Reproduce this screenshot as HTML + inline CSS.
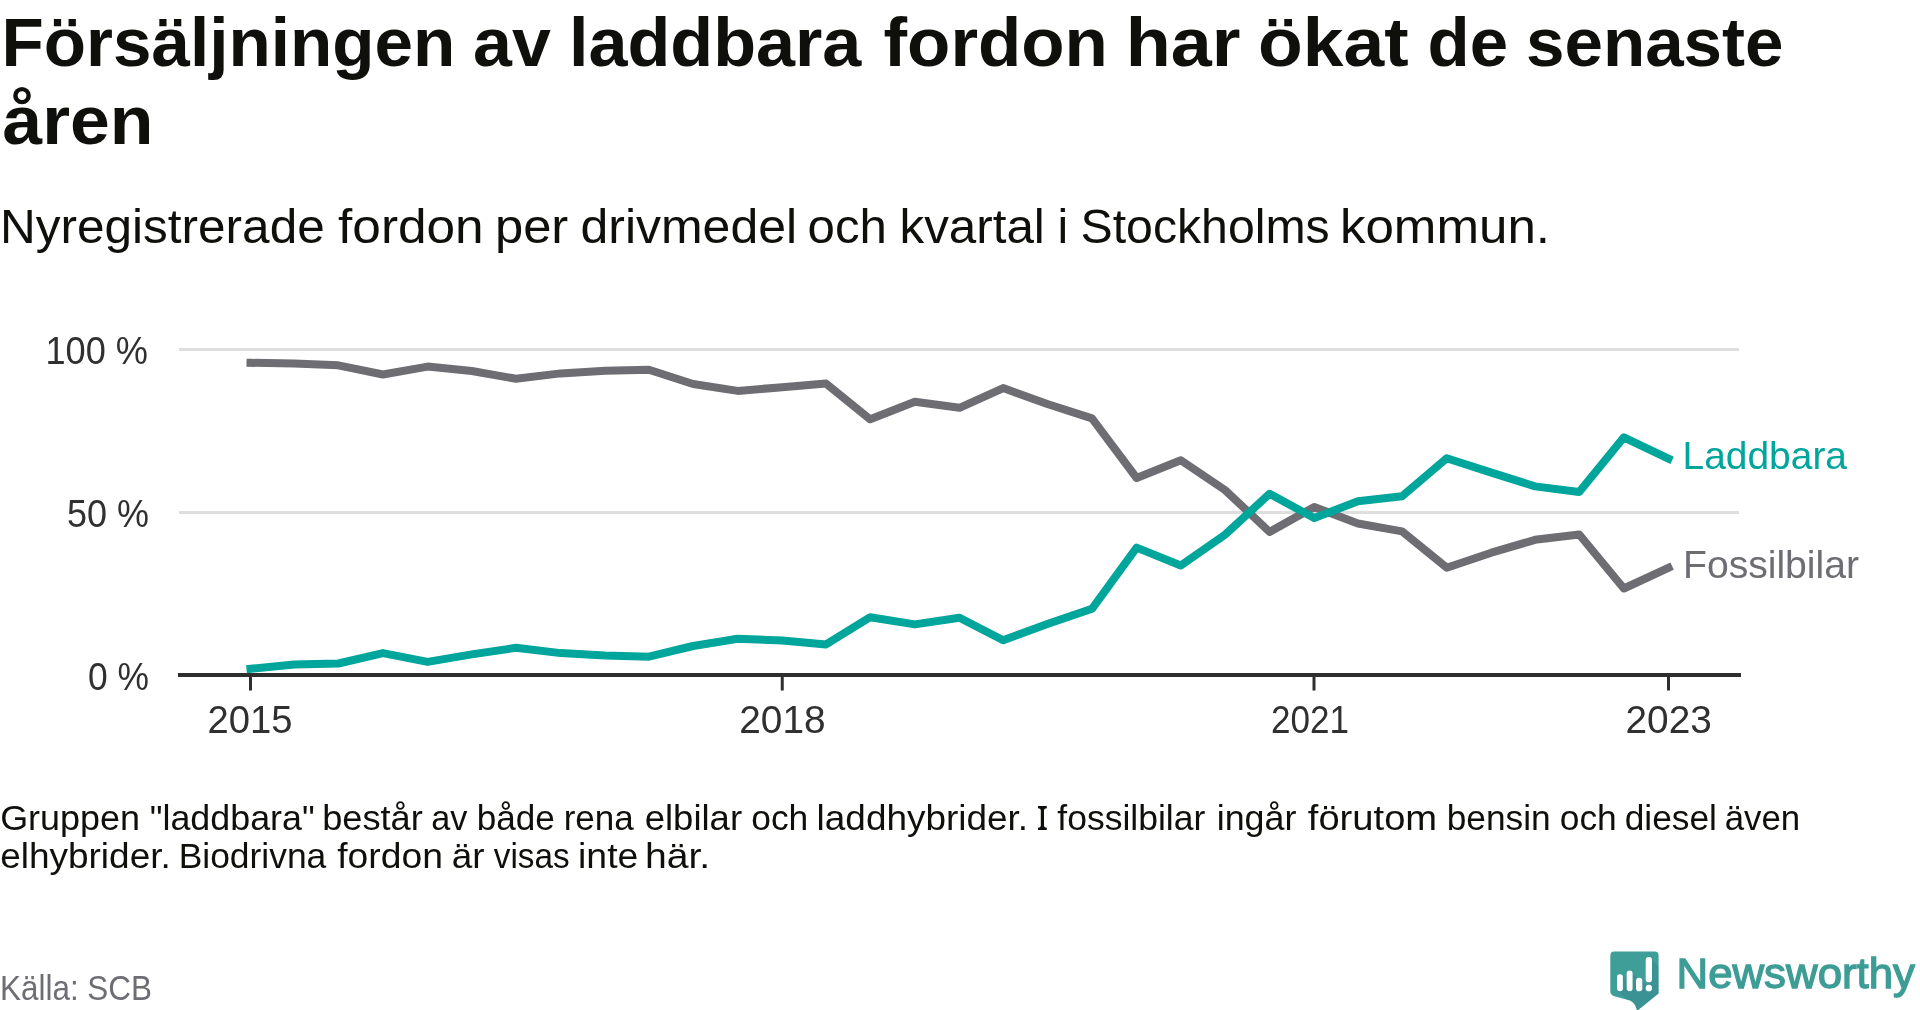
<!DOCTYPE html>
<html><head><meta charset="utf-8">
<style>
html,body{margin:0;padding:0;background:#fff;width:1920px;height:1010px;overflow:hidden}
svg{display:block;position:absolute;left:0;top:0;will-change:transform}
text{font-family:"Liberation Sans",sans-serif}
</style></head><body>
<svg width="1920" height="1010" viewBox="0 0 1920 1010">
<g fill="#0f0f0b"><text id="t1_0" x="1.54" y="66" font-size="69" font-weight="bold" textLength="453.65" lengthAdjust="spacingAndGlyphs">Försäljningen</text><text id="t1_1" x="473.12" y="66" font-size="69" font-weight="bold" textLength="77.80" lengthAdjust="spacingAndGlyphs">av</text><text id="t1_2" x="568.97" y="66" font-size="69" font-weight="bold" textLength="292.42" lengthAdjust="spacingAndGlyphs">laddbara</text><text id="t1_3" x="883.51" y="66" font-size="69" font-weight="bold" textLength="224.32" lengthAdjust="spacingAndGlyphs">fordon</text><text id="t1_4" x="1125.81" y="66" font-size="69" font-weight="bold" textLength="114.75" lengthAdjust="spacingAndGlyphs">har</text><text id="t1_5" x="1257.97" y="66" font-size="69" font-weight="bold" textLength="150.62" lengthAdjust="spacingAndGlyphs">ökat</text><text id="t1_6" x="1427.55" y="66" font-size="69" font-weight="bold" textLength="80.54" lengthAdjust="spacingAndGlyphs">de</text><text id="t1_7" x="1526.04" y="66" font-size="69" font-weight="bold" textLength="257.51" lengthAdjust="spacingAndGlyphs">senaste</text><text id="t2_0" x="2.50" y="144" font-size="69" font-weight="bold" textLength="150.96" lengthAdjust="spacingAndGlyphs">åren</text><text id="s_0" x="-0.02" y="243" font-size="48" textLength="324.73" lengthAdjust="spacingAndGlyphs">Nyregistrerade</text><text id="s_1" x="338.05" y="243" font-size="48" textLength="145.65" lengthAdjust="spacingAndGlyphs">fordon</text><text id="s_2" x="494.94" y="243" font-size="48" textLength="73.33" lengthAdjust="spacingAndGlyphs">per</text><text id="s_3" x="580.52" y="243" font-size="48" textLength="216.54" lengthAdjust="spacingAndGlyphs">drivmedel</text><text id="s_4" x="807.54" y="243" font-size="48" textLength="79.28" lengthAdjust="spacingAndGlyphs">och</text><text id="s_5" x="899.51" y="243" font-size="48" textLength="145.31" lengthAdjust="spacingAndGlyphs">kvartal</text><text id="s_6" x="1057.55" y="243" font-size="48">i</text><text id="s_7" x="1080.59" y="243" font-size="48" textLength="249.11" lengthAdjust="spacingAndGlyphs">Stockholms</text><text id="s_8" x="1339.93" y="243" font-size="48" textLength="210.07" lengthAdjust="spacingAndGlyphs">kommun.</text></g>
<g stroke="#dedede" stroke-width="3">
<line x1="179" y1="349.5" x2="1739" y2="349.5"/>
<line x1="179" y1="512.5" x2="1739" y2="512.5"/>
</g>
<g fill="#303030">
<text x="45.50" y="364" font-size="38.8" textLength="102.50" lengthAdjust="spacingAndGlyphs" id="y100">100 %</text>
<text x="67.00" y="527" font-size="38.8" textLength="82.00" lengthAdjust="spacingAndGlyphs" id="y50">50 %</text>
<text x="88.00" y="689.5" font-size="38.8" textLength="61.00" lengthAdjust="spacingAndGlyphs" id="y0">0 %</text>
<text x="207.50" y="733" font-size="38.8" textLength="85.00" lengthAdjust="spacingAndGlyphs" id="x2015">2015</text>
<text x="739.30" y="733" font-size="38.8" id="x2018">2018</text>
<text x="1271.00" y="733" font-size="38.8" textLength="78.00" lengthAdjust="spacingAndGlyphs" id="x2021">2021</text>
<text x="1625.50" y="733" font-size="38.8" id="x2023">2023</text>
</g>
<g stroke="#2e2e2e">
<line x1="178" y1="675" x2="1741" y2="675" stroke-width="4"/>
<line x1="250.5" y1="675" x2="250.5" y2="690.5" stroke-width="3"/>
<line x1="782.25" y1="675" x2="782.25" y2="690.5" stroke-width="3"/>
<line x1="1314" y1="675" x2="1314" y2="690.5" stroke-width="3"/>
<line x1="1668.5" y1="675" x2="1668.5" y2="690.5" stroke-width="3"/>
</g>
<polyline fill="none" stroke="#6e6d73" stroke-width="8" stroke-linejoin="round" stroke-linecap="square" points="250.50,362.8 294.18,363.6 338.34,365.3 382.98,374.5 427.63,366.6 471.79,371.0 515.95,378.8 560.60,373.4 605.24,370.8 648.92,369.7 693.08,384.0 737.73,390.9 782.37,387.2 826.05,383.6 870.21,419.3 914.85,401.7 959.50,407.8 1003.18,388.1 1047.34,404.0 1091.98,418.4 1136.63,478.0 1180.79,460.2 1224.95,490.0 1269.60,531.9 1314.24,506.9 1357.92,523.5 1402.08,531.4 1446.73,567.7 1491.37,552.7 1535.05,539.8 1579.21,534.5 1623.85,588.5 1668.50,567.7"/>
<polyline fill="none" stroke="#00a59b" stroke-width="8" stroke-linejoin="round" stroke-linecap="square" points="250.50,668.8 294.18,664.4 338.34,663.5 382.98,653.1 427.63,661.9 471.79,654.4 515.95,647.8 560.60,653.1 605.24,655.6 648.92,656.7 693.08,646.0 737.73,638.8 782.37,640.4 826.05,644.4 870.21,617.2 914.85,624.4 959.50,617.8 1003.18,640.3 1047.34,624.1 1091.98,608.8 1136.63,547.6 1180.79,565.5 1224.95,534.7 1269.60,493.8 1314.24,518.1 1357.92,501.2 1402.08,496.2 1446.73,458.3 1491.37,472.6 1535.05,486.4 1579.21,492.0 1623.85,437.3 1668.50,458.6"/>
<text x="1682.50" y="469" font-size="39.5" textLength="164.50" lengthAdjust="spacingAndGlyphs" id="laddbara" fill="#00a59b">Laddbara</text>
<text x="1683.00" y="578" font-size="39.5" textLength="176.00" lengthAdjust="spacingAndGlyphs" id="fossil" fill="#6e6d73">Fossilbilar</text>
<g fill="#0f0f0b"><text id="f1_0" x="0.20" y="830" font-size="34.2" textLength="139.75" lengthAdjust="spacingAndGlyphs">Gruppen</text><text id="f1_1" x="149.72" y="830" font-size="34.2" textLength="164.96" lengthAdjust="spacingAndGlyphs">"laddbara"</text><text id="f1_2" x="322.18" y="830" font-size="34.2" textLength="100.67" lengthAdjust="spacingAndGlyphs">består</text><text id="f1_3" x="431.26" y="830" font-size="34.2" textLength="36.17" lengthAdjust="spacingAndGlyphs">av</text><text id="f1_4" x="476.73" y="830" font-size="34.2" textLength="78.16" lengthAdjust="spacingAndGlyphs">både</text><text id="f1_5" x="563.72" y="830" font-size="34.2" textLength="70.02" lengthAdjust="spacingAndGlyphs">rena</text><text id="f1_6" x="644.68" y="830" font-size="34.2" textLength="97.38" lengthAdjust="spacingAndGlyphs">elbilar</text><text id="f1_7" x="751.24" y="830" font-size="34.2" textLength="56.99" lengthAdjust="spacingAndGlyphs">och</text><text id="f1_8" x="816.63" y="830" font-size="34.2" textLength="211.40" lengthAdjust="spacingAndGlyphs">laddhybrider.</text><text id="f1_10" x="1057.28" y="830" font-size="34.2" textLength="148.02" lengthAdjust="spacingAndGlyphs">fossilbilar</text><text id="f1_11" x="1216.69" y="830" font-size="34.2" textLength="79.65" lengthAdjust="spacingAndGlyphs">ingår</text><text id="f1_12" x="1307.79" y="830" font-size="34.2" textLength="129.38" lengthAdjust="spacingAndGlyphs">förutom</text><text id="f1_13" x="1446.73" y="830" font-size="34.2" textLength="103.88" lengthAdjust="spacingAndGlyphs">bensin</text><text id="f1_14" x="1559.74" y="830" font-size="34.2" textLength="57.01" lengthAdjust="spacingAndGlyphs">och</text><text id="f1_15" x="1624.74" y="830" font-size="34.2" textLength="92.19" lengthAdjust="spacingAndGlyphs">diesel</text><text id="f1_16" x="1724.76" y="830" font-size="34.2" textLength="75.47" lengthAdjust="spacingAndGlyphs">även</text><text id="f2_0" x="0.15" y="868" font-size="34.2" textLength="170.62" lengthAdjust="spacingAndGlyphs">elhybrider.</text><text id="f2_1" x="178.70" y="868" font-size="34.2" textLength="147.63" lengthAdjust="spacingAndGlyphs">Biodrivna</text><text id="f2_2" x="337.27" y="868" font-size="34.2" textLength="105.62" lengthAdjust="spacingAndGlyphs">fordon</text><text id="f2_3" x="451.70" y="868" font-size="34.2" textLength="32.79" lengthAdjust="spacingAndGlyphs">är</text><text id="f2_4" x="493.78" y="868" font-size="34.2" textLength="75.88" lengthAdjust="spacingAndGlyphs">visas</text><text id="f2_5" x="578.08" y="868" font-size="34.2" textLength="60.18" lengthAdjust="spacingAndGlyphs">inte</text><text id="f2_6" x="644.96" y="868" font-size="34.2" textLength="65.27" lengthAdjust="spacingAndGlyphs">här.</text><path d="M1038,806 H1046.8 V808.2 Q1044.2,808.4 1044,810 V826 Q1044.2,827.6 1046.8,827.8 V830 H1038 V827.8 Q1040.6,827.6 1040.8,826 V810 Q1040.6,808.4 1038,808.2 Z"/></g>
<text x="0.00" y="1000" font-size="34.6" textLength="152.00" lengthAdjust="spacingAndGlyphs" id="kalla" fill="#6e6d73">Källa: SCB</text>
<defs><clipPath id="lc"><path d="M1610.3,955.5 Q1610.3,951.4 1614.3,951.4 H1654.6 Q1658.6,951.4 1658.6,955.4 V993.6 L1637,1011 Q1635.5,1003 1630,1000.6 L1614.4,996.2 Q1610.3,994.8 1610.3,991.5 Z"/></clipPath></defs><g id="logo"><path d="M1610.3,955.5 Q1610.3,951.4 1614.3,951.4 H1654.6 Q1658.6,951.4 1658.6,955.4 V993.6 L1637,1011 Q1635.5,1003 1630,1000.6 L1614.4,996.2 Q1610.3,994.8 1610.3,991.5 Z" fill="#3f9e97"/><g clip-path="url(#lc)" fill="#2a5f8a" opacity="0.18"><path d="M1622.9,977.25 L1662.9,1017.25 L1657.885,1031.3 L1617.885,991.3 Z"/><path d="M1632.6,973.4499999999999 L1672.6,1013.4499999999999 L1667.585,1031.3 L1627.585,991.3 Z"/><path d="M1642.3,980.9499999999999 L1682.3,1020.9499999999999 L1676.945,1031.3 L1636.945,991.3 Z"/><path d="M1652,960.15 L1692,1000.15 L1686.645,1022.3 L1646.645,982.3 Z"/><path d="M1652,987.85 L1692,1027.85 L1686.645,1031.3 L1646.645,991.3 Z"/></g><g fill="#fff"><rect x="1617" y="974.3" width="5.9" height="17.0" rx="2.95"/><rect x="1626.7" y="970.5" width="5.9" height="20.8" rx="2.95"/><rect x="1636" y="977.8" width="6.3" height="13.5" rx="3.15"/><rect x="1645.7" y="957" width="6.3" height="25.3" rx="3.15"/><rect x="1645.7" y="984.7" width="6.3" height="6.6" rx="3.15"/></g></g>
<text x="1676.50" y="987.5" font-size="42" textLength="238.50" lengthAdjust="spacingAndGlyphs" id="newsw" font-weight="normal" fill="#3d9d96" stroke="#3d9d96" stroke-width="1.3">Newsworthy</text>
</svg>
</body></html>
